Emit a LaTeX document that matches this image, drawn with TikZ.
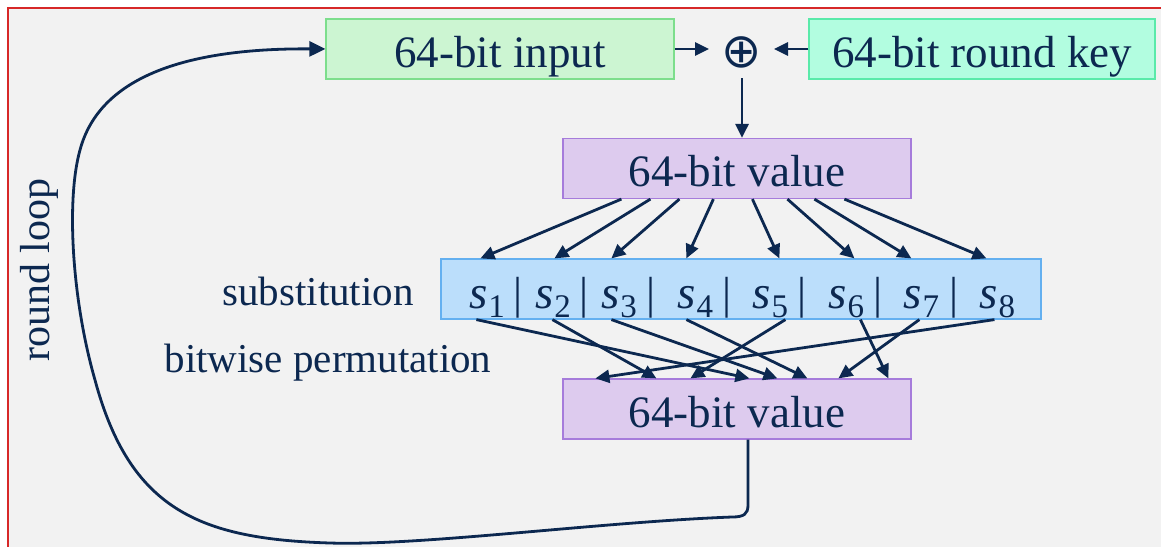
\documentclass[tikz,border=0pt]{standalone}
\usepackage{fontspec}
\setmainfont{Liberation Serif}
\newfontfamily\djv{DejaVu Sans}
\usetikzlibrary{arrows.meta,calc}
\definecolor{ink}{RGB}{12,40,80}
\definecolor{bgc}{RGB}{242,242,242}
\definecolor{framec}{RGB}{215,40,40}
\definecolor{inF}{RGB}{204,245,210}
\definecolor{inD}{RGB}{125,222,140}
\definecolor{keyF}{RGB}{178,253,224}
\definecolor{keyD}{RGB}{90,234,170}
\definecolor{valF}{RGB}{221,203,238}
\definecolor{valD}{RGB}{166,124,219}
\definecolor{sF}{RGB}{187,222,251}
\definecolor{sD}{RGB}{100,176,240}
\newcommand{\sx}[1]{\textit{s}\kern1pt\raisebox{-9pt}{\fontsize{33}{33}\selectfont #1}}
\begin{document}
\begin{tikzpicture}[x=1pt,y=-1pt,
  box/.style={draw, line width=1.2pt, minimum width=348pt, minimum height=60pt,
    inner sep=0pt, text height=36pt, text depth=0pt,
    font=\fontsize{45}{45}\selectfont, text=ink},
  lbl/.style={text=ink, inner sep=0pt, font=\fontsize{41}{41}\selectfont},
  sl/.style={text=ink, inner sep=0pt, anchor=base west, font=\fontsize{47}{47}\selectfont},
  bar/.style={text=ink, inner sep=0pt, anchor=base, font=\fontsize{45}{45}\selectfont},
  arr/.style={draw=ink, line width=2.8pt, -{Triangle[length=14pt,width=13pt]}},
  loopline/.style={draw=ink, line width=2.8pt, -{Triangle[length=16pt,width=15pt]}}]
\path[use as bounding box] (0,0) rectangle (1161,546);
\clip (0,0) rectangle (1161,546);
\fill[bgc] (8,8) rectangle (1200,600);
\draw[framec, line width=1.6pt] (8,600) -- (8,8) -- (1200,8);

% boxes
\node[box, fill=inF, draw=inD] (in) at (500,49) {64-bit input};
\node[box, fill=keyF, draw=keyD, minimum width=346pt] (key) at (982,49) {64-bit round key};
\node[text=ink, inner sep=0pt, font=\djv\fontsize{48}{48}\selectfont] (xor) at (742,52) {⊕};
\node[box, fill=valF, draw=valD] (v1) at (737,168.5) {64-bit value};
\node[draw=sD, fill=sF, line width=1.2pt, minimum width=600pt, minimum height=60pt, inner sep=0pt] (S) at (741,289) {};
\node[box, fill=valF, draw=valD] (v2) at (737,409) {64-bit value};
\coordinate (xw) at (709,49);
\coordinate (xe) at (774,49);
\coordinate (xs) at (742,78);

% s-boxes
\node[sl] (s1) at (469,308) {\sx{1}};
\node[sl] (s2) at (535,308) {\sx{2}};
\node[sl] (s3) at (601,308) {\sx{3}};
\node[sl] (s4) at (677,308) {\sx{4}};
\node[sl] (s5) at (752,308) {\sx{5}};
\node[sl] (s6) at (828,308) {\sx{6}};
\node[sl] (s7) at (903,308) {\sx{7}};
\node[sl] (s8) at (979,308) {\sx{8}};
\node[bar] (b1) at (518,308) {|};
\node[bar] (b2) at (584,308) {|};
\node[bar] (b3) at (651,308) {|};
\node[bar] (b4) at (727,308) {|};
\node[bar] (b5) at (802,308) {|};
\node[bar] (b6) at (878,308) {|};
\node[bar] (b7) at (954,308) {|};

% labels
\node[lbl, anchor=base] (sub) at (318,305) {substitution};
\node[lbl, anchor=base] (perm) at (328,372) {bitwise permutation};
\node[lbl, anchor=base, rotate=90, font=\fontsize{42}{42}\selectfont] (loop) at (49,270) {round loop};

% arrows
\draw[arr] (in.east |- xw) -- (xw);
\draw[arr] (key.west |- xe) -- (xe);
\draw[arr] (xs) -- (xs |- v1.north);

\foreach \a/\b in {59/40, 88/114, 117/171, 151/246, 190/339, 225/414, 252/471, 282/546}
  \draw[arr] ([xshift=\a pt]v1.south west) -- ([xshift=\b pt]S.north west);

\foreach \a/\b in {36/187, 112/94, 171/215, 246/245, 345/128, 420/326, 479/276, 554/33}
  \draw[arr] ([xshift=\a pt]S.south west) -- ([xshift=\b pt]v2.north west);

% round loop
\draw[loopline] ([xshift=11pt]v2.south) -- (748,505)
  .. controls (748,514) and (744,517) .. (732,517)
  .. controls (600,522) and (420,546) .. (330,543)
  .. controls (200,539) and (130,510) .. (95,380)
  .. controls (72,300) and (66,200) .. (80,150)
  .. controls (100,75) and (190,48) .. (in.west);
\end{tikzpicture}
\end{document}
